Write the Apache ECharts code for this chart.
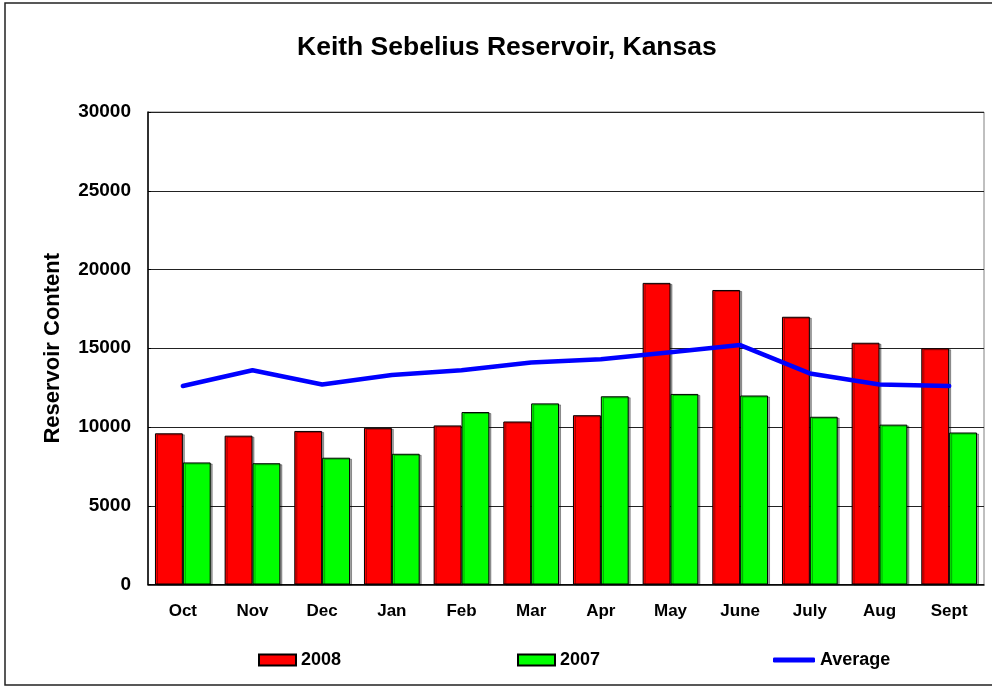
<!DOCTYPE html>
<html>
<head>
<meta charset="utf-8">
<script src="https://cdn.jsdelivr.net/npm/echarts@6/dist/echarts.min.js"></script>
<style>
html,body{margin:0;padding:0;background:#fff;}
#chart{width:992px;height:687px;}
</style>
</head>
<body>
<div id="chart"></div>
<script>
var titleText = 'Keith Sebelius Reservoir, Kansas';
var yAxisName = 'Reservoir Content';
var months = ['Oct','Nov','Dec','Jan','Feb','Mar','Apr','May','June','July','Aug','Sept'];
var data2008 = [9600, 9450, 9750, 9950, 10100, 10350, 10750, 19150, 18700, 17000, 15350, 15000];
var data2007 = [7750, 7700, 8050, 8300, 10950, 11500, 11950, 12100, 12000, 10650, 10150, 9650];
var dataAverage = [12600, 13600, 12700, 13300, 13600, 14100, 14300, 14750, 15200, 13400, 12700, 12600];
var yTicks = {min: 0, max: 30000, interval: 5000};

var FONT = '"Liberation Sans", Arial, sans-serif';
var chart = echarts.init(document.getElementById('chart'), null, {renderer: 'canvas'});

var legendText = {fontFamily: FONT, fontWeight: 'bold', fontSize: 18, color: '#000'};

var option = {
  backgroundColor: '#fff',
  animation: false,
  title: {
    text: titleText,
    left: 297,
    top: 34,
    padding: 0,
    textStyle: {fontFamily: FONT, fontWeight: 'bold', fontSize: 26.5, color: '#000'}
  },
  legend: [
    {data: ['2008'], left: 258, top: 651, padding: 0, itemWidth: 37, itemHeight: 11, itemGap: 4, icon: 'rect', textStyle: legendText},
    {data: ['2007'], left: 517, top: 651, padding: 0, itemWidth: 37, itemHeight: 11, itemGap: 4, icon: 'rect', textStyle: legendText},
    {data: ['Average'], left: 773, top: 651, padding: 0, itemWidth: 42, itemHeight: 5, itemGap: 4, icon: 'roundRect', textStyle: legendText,
     itemStyle: {color: '#0000FF', borderWidth: 0}}
  ],
  grid: {
    left: 148, right: 8, top: 112, bottom: 102.5,
    show: true, borderColor: '#808080', borderWidth: 1,
    outerBoundsMode: 'none', containLabel: false
  },
  xAxis: {
    type: 'category',
    data: months,
    axisLine: {show: true, lineStyle: {color: '#000', width: 1.5}},
    axisTick: {show: false},
    axisLabel: {fontFamily: FONT, fontWeight: 'bold', fontSize: 17, color: '#000', margin: 18, interval: 0},
    splitLine: {show: false}
  },
  yAxis: {
    type: 'value',
    min: yTicks.min, max: yTicks.max, interval: yTicks.interval,
    name: yAxisName,
    nameLocation: 'middle',
    nameGap: 84,
    nameRotate: 90,
    nameTextStyle: {fontFamily: FONT, fontWeight: 'bold', fontSize: 22, color: '#000'},
    axisLine: {show: true, lineStyle: {color: '#000', width: 1.5}},
    axisTick: {show: true, inside: true, length: 3, lineStyle: {color: '#000'}},
    axisLabel: {fontFamily: FONT, fontWeight: 'bold', fontSize: 19, color: '#000', margin: 17,
      formatter: function (v) { return String(v); }},
    splitLine: {show: true, lineStyle: {color: '#222', width: 1}}
  },
  series: [
    {
      name: '2008', type: 'bar', data: data2008,
      barGap: '0%', barCategoryGap: '20%',
      itemStyle: {color: '#FF0000', borderColor: '#000', borderWidth: 1,
        shadowColor: 'rgba(0,0,0,0.35)', shadowOffsetX: 2, shadowOffsetY: 1, shadowBlur: 0}
    },
    {
      name: '2007', type: 'bar', data: data2007,
      barGap: '0%', barCategoryGap: '20%',
      itemStyle: {color: '#00FF00', borderColor: '#000', borderWidth: 1,
        shadowColor: 'rgba(0,0,0,0.35)', shadowOffsetX: 2, shadowOffsetY: 1, shadowBlur: 0}
    },
    {
      name: 'Average', type: 'line', data: dataAverage,
      symbol: 'none', showSymbol: false, smooth: false,
      lineStyle: {color: '#0000FF', width: 4.5, cap: 'round', join: 'round'},
      itemStyle: {color: '#0000FF'},
      z: 5
    }
  ],
  graphic: [
    {type: 'rect', shape: {x: 5, y: 3, width: 1000, height: 682}, style: {fill: null, stroke: '#222', lineWidth: 1.5}, silent: true, z: 100}
  ]
};
chart.setOption(option);
</script>
</body>
</html>
